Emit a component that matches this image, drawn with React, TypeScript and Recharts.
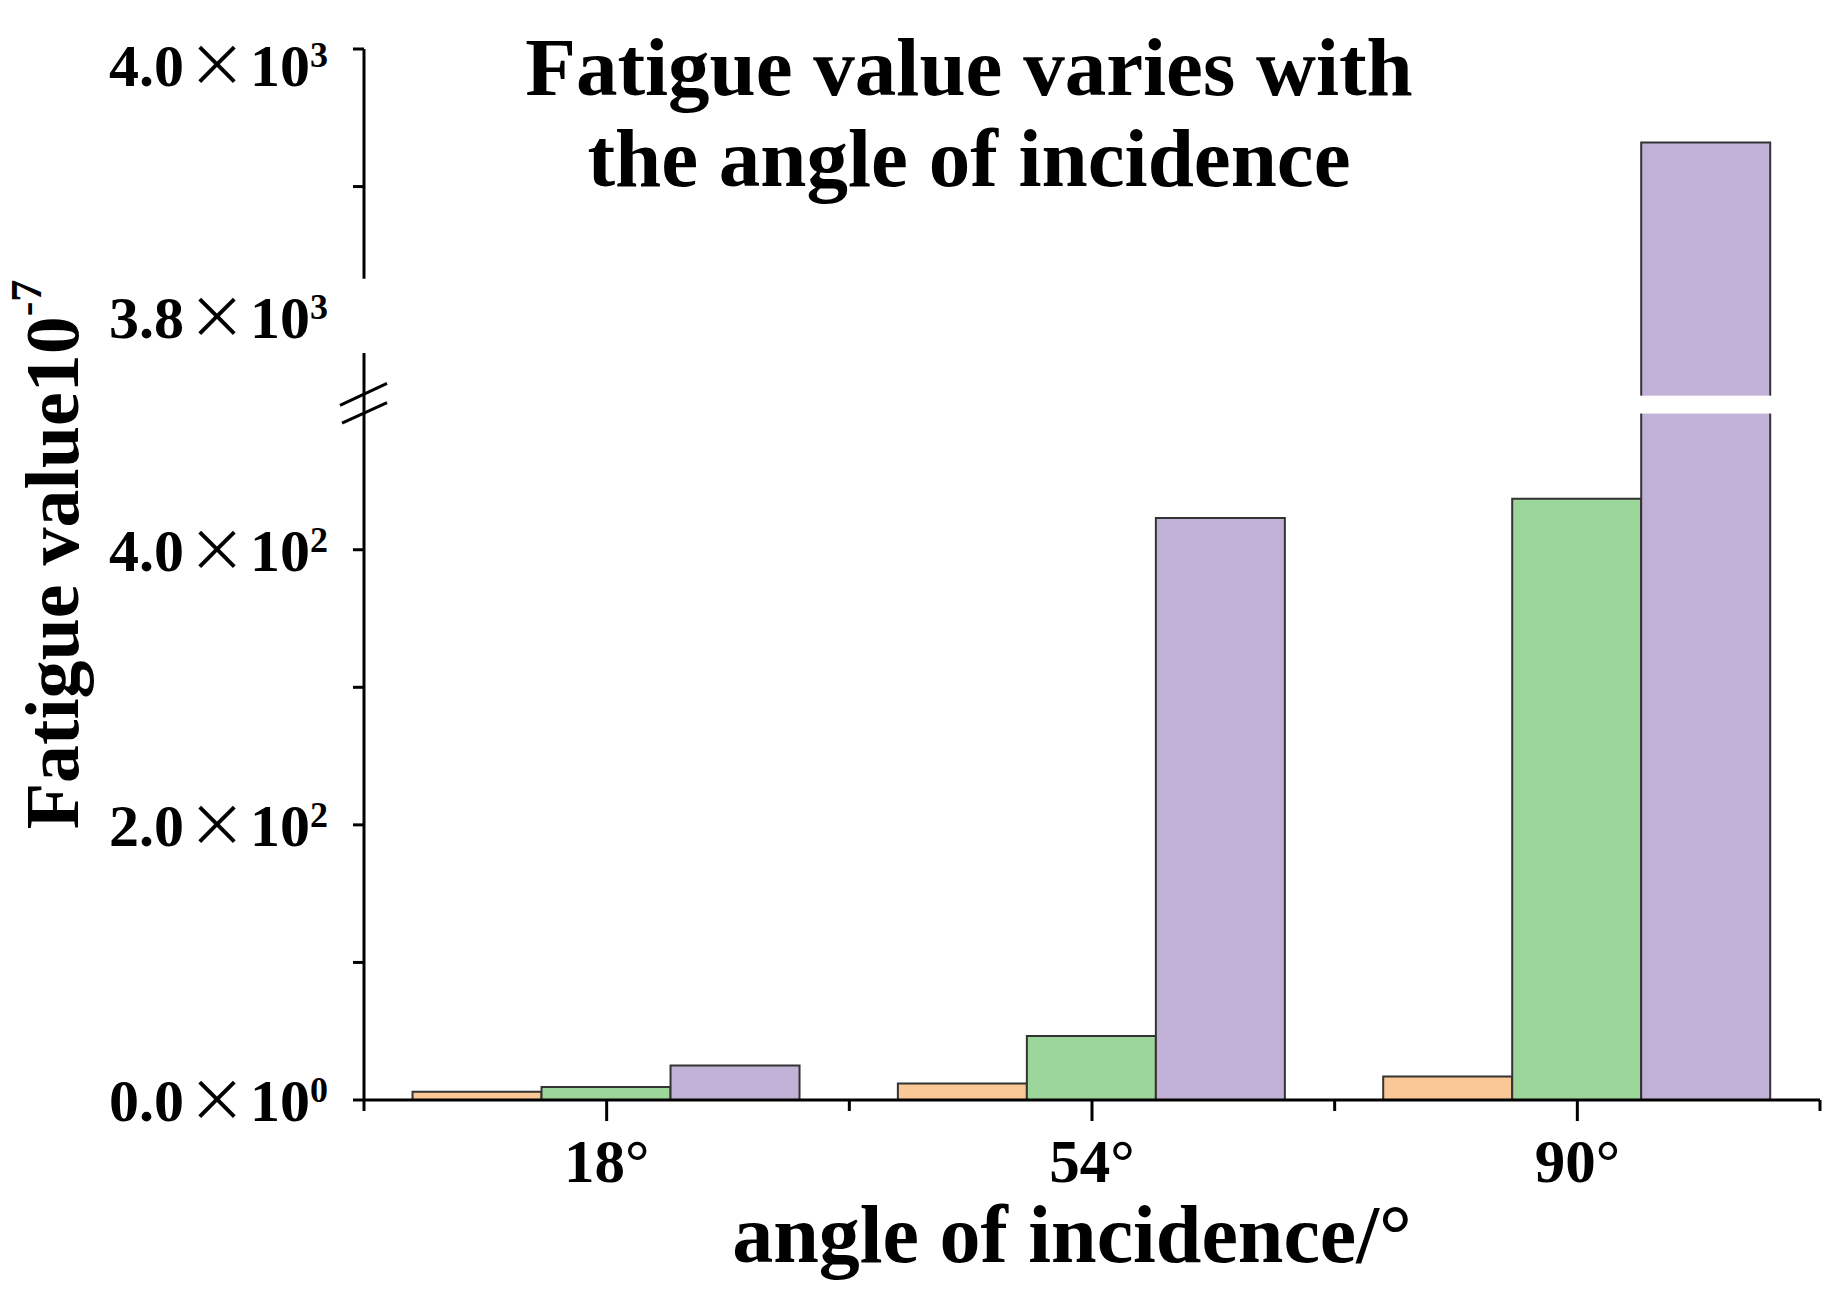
import React from 'react';
import { BarChart, Bar, XAxis, YAxis, ReferenceLine, Rectangle } from 'recharts';

const categories = ['18°', '54°', '90°'];
const orangeValues = [6, 12, 17];
const greenValues = [9.5, 46.5, 437];
const purpleValues = [25, 423, 3932];

// axis break: real values above BREAK_REAL are drawn shifted down by OFFSET
const OFFSET = 3236;
const BREAK_REAL = 1000;
const SPLIT_DISPLAY = 555;
const yTicksReal = [0, 100, 200, 300, 400, 3800, 3900, 4000];
const yLabelsReal = [0, 200, 400, 3800, 4000];
const yNoMarkReal = [3800];
const lowerAxisTop = 543;
const upperAxisBottom = 597;
const barGapDisplay = [499, 512];

const FONT = '"Liberation Serif", "Times New Roman", serif';

const toDisplay = (v: number) => (v > BREAK_REAL ? v - OFFSET : v);
const fromDisplay = (d: number) => (d > SPLIT_DISPLAY ? d + OFFSET : d);

const data = categories.map((c, i) => ({
  name: c,
  pos: i + 0.5,
  orange: toDisplay(orangeValues[i]),
  green: toDisplay(greenValues[i]),
  purple: toDisplay(purpleValues[i]),
  purpleReal: purpleValues[i],
}));

const sciParts = (v: number) => {
  if (v === 0) return ['0.0', '0'];
  const exp = Math.floor(Math.log10(v));
  return [(v / Math.pow(10, exp)).toFixed(1), String(exp)];
};

const YTick = (props: any) => {
  const { x, y, payload } = props;
  const real = Math.round(fromDisplay(payload.value));
  const hasMark = !yNoMarkReal.includes(real);
  const hasLabel = yLabelsReal.includes(real);
  const [m, e] = sciParts(real);
  let ty = y + 21;
  if (real === 4000) ty += 16;
  if (real === 3800) ty -= 7;
  return (
    <g>
      {hasMark && <line x1={x - 11} x2={x} y1={y} y2={y} stroke="#000" strokeWidth={3} />}
      {hasLabel && (
        <text x={x - 36} y={ty} textAnchor="end" fontFamily={FONT} fontWeight="bold" fontSize={60} fill="#000">
          <tspan>{m}</tspan>
          <tspan fontFamily='"Noto Sans CJK JP", sans-serif' fontWeight="normal" fontSize={58} dx={4}>×</tspan>
          <tspan dx={4}>10</tspan>
          <tspan fontSize={36} dy={-19}>{e}</tspan>
        </text>
      )}
    </g>
  );
};

const XTick = (props: any) => {
  const { x, y, payload } = props;
  const v = payload.value;
  const isCenter = Math.abs((v % 1) - 0.5) < 1e-6;
  return (
    <g>
      <line x1={x} x2={x} y1={y} y2={y + (isCenter ? 21 : 11)} stroke="#000" strokeWidth={3} />
      {isCenter && (
        <text x={x} y={y + 82} textAnchor="middle" fontFamily={FONT} fontWeight="bold" fontSize={61} fill="#000">
          {categories[Math.floor(v)]}
        </text>
      )}
    </g>
  );
};

const PurpleShape = (props: any) => {
  const { x, y, width, height, payload } = props;
  const base = y + height;
  const ppu = payload.purple > 0 ? height / payload.purple : 0;
  const broken = payload.purpleReal > BREAK_REAL;
  return (
    <g>
      <Rectangle {...props} />
      {broken && (
        <rect
          x={x - 3}
          width={width + 6}
          y={base - barGapDisplay[1] * ppu}
          height={(barGapDisplay[1] - barGapDisplay[0]) * ppu}
          fill="#fff"
        />
      )}
    </g>
  );
};

const YLabel = (props: any) => {
  const { viewBox } = props;
  const cx = 52;
  const cy = viewBox.y + viewBox.height / 2 - 20;
  return (
    <text
      x={cx}
      y={cy}
      transform={`rotate(-90, ${cx}, ${cy})`}
      textAnchor="middle"
      dominantBaseline="central"
      fontFamily={FONT}
      fontWeight="bold"
      fontSize={76}
      fill="#000"
    >
      <tspan>Fatigue value10</tspan>
      <tspan fontSize={44} dy={-26}>-7</tspan>
    </text>
  );
};

export default function App() {
  const xTicks = [0, 0.5, 1, 1.5, 2, 2.5, 3];
  return (
    <div style={{ position: 'absolute', left: 0, top: 0, width: 1844, height: 1290, background: '#fff' }}>
      <BarChart
        width={1844}
        height={1290}
        data={data}
        margin={{ top: 49, right: 24, bottom: 0, left: 0 }}
        barCategoryGap="10%"
        barGap={0}
      >
        <XAxis xAxisId="cat" dataKey="name" hide height={0} />
        <XAxis
          xAxisId="num"
          dataKey="pos"
          type="number"
          domain={[0, 3]}
          allowDataOverflow
          ticks={xTicks}
          height={190}
          axisLine={{ stroke: '#000', strokeWidth: 3 }}
          tickLine={false}
          tickSize={0}
          tickMargin={0}
          tick={<XTick />}
          interval={0}
        />
        <YAxis
          type="number"
          domain={[0, 764]}
          allowDataOverflow
          ticks={yTicksReal.map(toDisplay)}
          width={364}
          axisLine={false}
          tickLine={false}
          tickSize={0}
          tickMargin={0}
          tick={<YTick />}
          interval={0}
          label={<YLabel />}
        />
        <Bar xAxisId="cat" dataKey="orange" fill="#F9C896" stroke="#333" strokeWidth={2} isAnimationActive={false} />
        <Bar xAxisId="cat" dataKey="green" fill="#9DD69A" stroke="#333" strokeWidth={2} isAnimationActive={false} />
        <Bar xAxisId="cat" dataKey="purple" fill="#C2B1D6" stroke="#333" strokeWidth={2} isAnimationActive={false} shape={<PurpleShape />} />
        <ReferenceLine xAxisId="num" segment={[{ x: 0, y: 0 }, { x: 0, y: lowerAxisTop }]} stroke="#000" strokeWidth={3} ifOverflow="visible" />
        <ReferenceLine xAxisId="num" segment={[{ x: 0, y: upperAxisBottom }, { x: 0, y: 764 }]} stroke="#000" strokeWidth={3} ifOverflow="visible" />
        <ReferenceLine xAxisId="num" segment={[{ x: -0.0495, y: 505 }, { x: 0.0474, y: 521 }]} stroke="#000" strokeWidth={3} ifOverflow="visible" />
        <ReferenceLine xAxisId="num" segment={[{ x: -0.0453, y: 492 }, { x: 0.0474, y: 507 }]} stroke="#000" strokeWidth={3} ifOverflow="visible" />
      </BarChart>
      <svg width={1844} height={1290} style={{ position: 'absolute', left: 0, top: 0, pointerEvents: 'none' }}>
        <text x={969} y={95} textAnchor="middle" fontFamily={FONT} fontWeight="bold" fontSize={83} fill="#000">
          Fatigue value varies with
        </text>
        <text x={969} y={186} textAnchor="middle" fontFamily={FONT} fontWeight="bold" fontSize={83} fill="#000">
          the angle of incidence
        </text>
        <text x={1072} y={1262} textAnchor="middle" fontFamily={FONT} fontWeight="bold" fontSize={82} fill="#000">
          angle of incidence/°
        </text>
      </svg>
    </div>
  );
}
